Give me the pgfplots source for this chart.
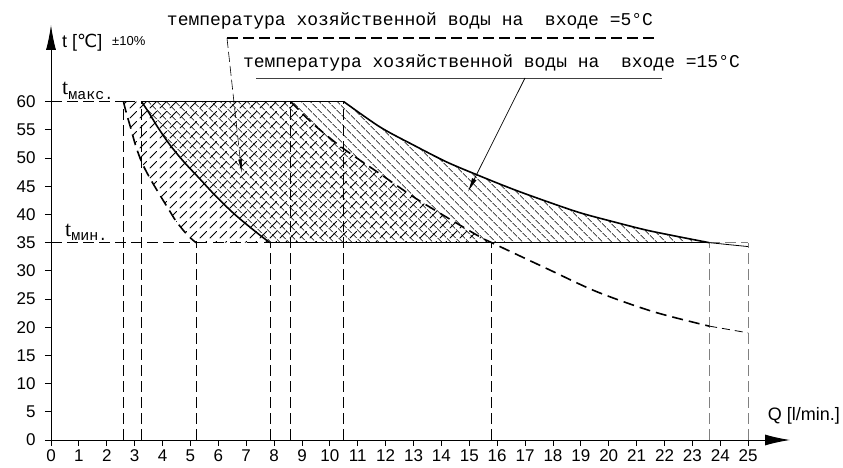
\documentclass[border=0pt]{standalone}
\usepackage{fontspec}
\setmainfont{Liberation Sans}
\newfontfamily\mono{Liberation Mono}
\newfontfamily\serif{Liberation Serif}
\newfontfamily\dv{DejaVu Sans}
\usepackage{pgfplots}
\pgfplotsset{compat=1.18}
\usetikzlibrary{arrows.meta,patterns,patterns.meta}
\pgfdeclarepatternformonly{dashNE}{\pgfqpoint{-1pt}{-1pt}}{\pgfqpoint{11pt}{11pt}}{\pgfqpoint{10pt}{10pt}}{%
  \pgfsetlinewidth{0.8pt}\pgfsetroundcap
  \pgfpathmoveto{\pgfqpoint{0pt}{0pt}}\pgfpathlineto{\pgfqpoint{6.5pt}{6.5pt}}\pgfusepath{stroke}}
\tikzset{
  guide/.style={black, line width=0.7pt, dash pattern=on 11pt off 5pt},
  gguide/.style={gray, line width=1.1pt, dash pattern=on 11pt off 5pt},
  solidc/.style={black, line width=1.6pt},
  dashc/.style={black, line width=1.6pt, dash pattern=on 11pt off 6pt},
}
\begin{document}
\begin{tikzpicture}
\useasboundingbox (-51pt,-28pt) rectangle (792pt,440pt);
\begin{axis}[
  at={(0pt,0pt)}, anchor=origin,
  scale only axis, width=739pt, height=415pt,
  xmin=0, xmax=26.5, ymin=0, ymax=73.6,
  axis lines=left,
  axis line style={line width=0.9pt},
  x axis line style={-{Latex[length=25pt,width=11pt]}},
  y axis line style={-{Latex[length=25pt,width=10pt]}},
  xtick={0,1,...,25}, ytick={0,5,...,60},
  tick align=outside, major tick length=6pt,
  tick style={black, line width=0.8pt},
  ticklabel style={font=\fontsize{17}{17}\selectfont},
  yticklabel style={xshift=-6pt},
  /pgf/number format/assume math mode=true,
  clip=false,
]
% 5 C region (dashed boundary) hatch
\addplot[draw=none, pattern=dashNE] coordinates {
 (2.6,60) (8.6,60) (9.41,56.0) (10.48,51.7) (11.8,47.2) (13.0,43.1) (14.19,39.5) (15.39,36.0) (15.8,35)
 (5.2,35) (4.9,36.3) (4.5,38.7) (4.27,40.5) (3.91,43.4) (3.55,46.4) (3.25,49.3) (3.03,52.3) (2.86,55.3) (2.69,58.2) (2.6,60)};
% 15 C region (solid boundary) hatch
\addplot[draw=none, pattern={Lines[angle=-45,distance=6.4pt,line width=0.7pt]}] coordinates {
 (3.25,60) (10.5,60) (11.8,55.5) (13.0,52.3) (14.19,49.3) (15.39,46.8) (16.58,44.45) (17.78,42.3) (18.97,40.3) (20.17,38.7) (21.37,37.2) (22.56,36.0) (23.6,35)
 (7.85,35) (7.5,36.3) (6.9,38.7) (6.48,40.5) (5.88,43.4) (5.32,46.4) (4.77,49.3) (4.27,52.3) (3.85,55.3) (3.49,58.2) (3.25,60)};
% guide lines
\addplot[guide] coordinates {(0,60) (2.6,60)};
\addplot[guide] coordinates {(0,35) (5.2,35)};
\addplot[guide] coordinates {(2.6,0) (2.6,60)};
\addplot[guide] coordinates {(3.25,0) (3.25,60)};
\addplot[guide] coordinates {(5.2,0) (5.2,35)};
\addplot[guide] coordinates {(7.85,0) (7.85,35)};
\addplot[guide] coordinates {(8.6,0) (8.6,60)};
\addplot[guide] coordinates {(10.5,0) (10.5,60)};
\addplot[guide] coordinates {(15.8,0) (15.8,35)};
\addplot[gguide] coordinates {(23.6,0) (23.6,35)};
\addplot[gguide] coordinates {(25,0) (25,35)};
\addplot[gguide] coordinates {(23.6,35) (25,35)};
% 5 C boundaries (dashed)
\addplot[dashc] coordinates {(2.6,60) (3.25,60)};
\addplot[dashc] coordinates {(5.2,35) (7.85,35)};
\addplot[dashc, smooth] coordinates {(2.6,60) (2.69,58.2) (2.86,55.3) (3.03,52.3) (3.25,49.3) (3.55,46.4) (3.91,43.4) (4.27,40.5) (4.5,38.7) (4.9,36.3) (5.2,35)};
\addplot[dashc, smooth] coordinates {(8.6,60) (9.41,56.0) (10.48,51.7) (11.8,47.2) (13.0,43.1) (14.19,39.5) (15.39,36.0) (15.8,35) (17.78,30.4) (19.57,26.3) (21.6,22.75) (23.6,20.2)};
\addplot[black, line width=0.8pt, dash pattern=on 8pt off 5pt] coordinates {(23.6,20.2) (25,19.0)};
% 15 C boundaries (solid)
\addplot[solidc] coordinates {(3.25,60) (10.5,60)};
\addplot[solidc] coordinates {(7.85,35) (23.6,35)};
\addplot[solidc, smooth] coordinates {(3.25,60) (3.49,58.2) (3.85,55.3) (4.27,52.3) (4.77,49.3) (5.32,46.4) (5.88,43.4) (6.48,40.5) (6.9,38.7) (7.5,36.3) (7.85,35)};
\addplot[solidc, smooth] coordinates {(10.5,60) (11.8,55.5) (13.0,52.3) (14.19,49.3) (15.39,46.8) (16.58,44.45) (17.78,42.3) (18.97,40.3) (20.17,38.7) (21.37,37.2) (22.56,36.0) (23.6,35)};
\addplot[black, line width=0.8pt] coordinates {(23.6,35) (25,34.3)};
\end{axis}
% annotations (pt relative to axis origin)
\node[font=\mono\fontsize{18}{18}\selectfont, inner sep=0] at (359pt,419pt) {температура хозяйственной воды на\ \ входе =5°C};
\draw[black, line width=2pt, dash pattern=on 11pt off 5pt] (176pt,402pt) -- (608pt,402pt);
\draw[black, line width=0.6pt, dash pattern=on 10pt off 4pt, -{Latex[length=14pt,width=4pt]}] (176pt,402pt) -- (190.7pt,266.7pt);
\node[font=\mono\fontsize{18}{18}\selectfont, inner sep=0] at (440.5pt,377.5pt) {температура хозяйственной воды на\ \ входе =15°C};
\draw[black!75, line width=0.9pt] (205pt,362pt) -- (611pt,362pt);
\draw[black, line width=0.7pt, -{Latex[length=14pt,width=5pt]}] (474pt,362pt) -- (417pt,248.3pt);
\node[anchor=west, inner sep=0, font=\fontsize{18}{18}\selectfont] at (11pt,397.5pt) {t [{\dv ℃}]};
\node[anchor=west, inner sep=0, font=\fontsize{13}{13}\selectfont] at (61pt,399pt) {±10\%};
\node[anchor=base west, inner sep=0] at (11pt,345pt) {\serif\fontsize{22}{22}\selectfont t\raisebox{-5pt}{\mono\fontsize{15}{15}\selectfont макс.}};
\node[anchor=base west, inner sep=0] at (14pt,203pt) {\serif\fontsize{22}{22}\selectfont t\raisebox{-4pt}{\mono\fontsize{15}{15}\selectfont мин.}};
\node[anchor=east, inner sep=0, font=\fontsize{18}{18}\selectfont] at (789pt,24pt) {Q [l/min.]};
\end{tikzpicture}
\end{document}
